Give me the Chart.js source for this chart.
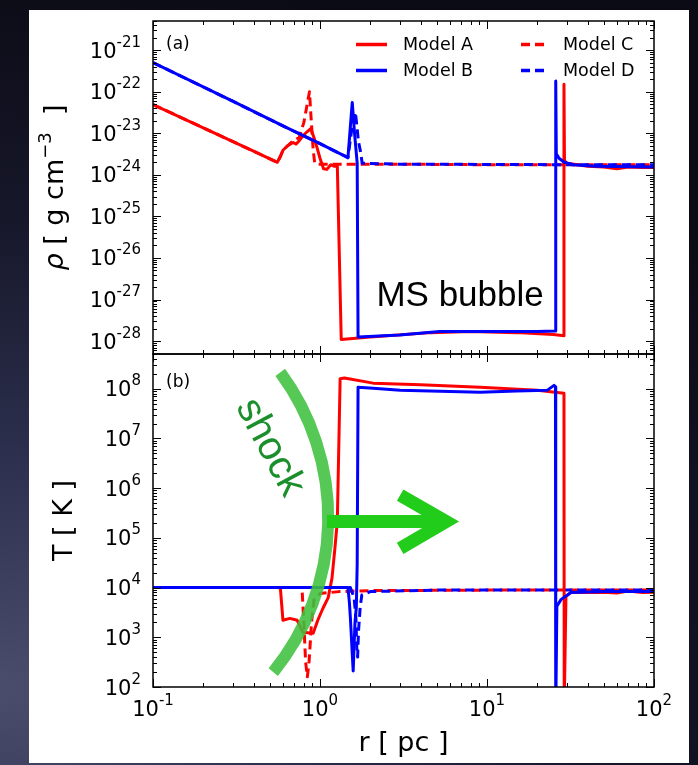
<!DOCTYPE html>
<html>
<head>
<meta charset="utf-8">
<script src="https://cdn.jsdelivr.net/npm/chart.js@4.4.1/dist/chart.umd.min.js"></script>
<style>
  html, body { margin: 0; padding: 0; width: 698px; height: 765px; overflow: hidden; }
  body {
    background: radial-gradient(ellipse 130% 95% at 0% 90%, #4a4e6c 0%, #2e3150 30%, #161729 65%, #0b0b15 100%);
  }
  #sheet { position: absolute; left: 29px; top: 10px; width: 660px; height: 753px; background: #ffffff; }
  #wrap { position: absolute; left: 0; top: 0; width: 698px; height: 765px; }
</style>
</head>
<body>
<div id="sheet"></div>
<div id="wrap"><canvas id="profiles" width="698" height="765"></canvas></div>
<script>
// ---- radial profiles: density (panel a) and temperature (panel b) ----

// Model A
const rRhoA = [0.1, 0.2, 0.4, 0.555, 0.58, 0.60, 0.64, 0.69, 0.72, 0.75, 0.79, 0.84, 0.88, 0.92, 0.96, 1.00, 1.05, 1.10, 1.16, 1.22, 1.27, 1.34, 2.0, 4.6, 8.0, 15, 25, 28.8, 28.9, 29.1, 30, 35, 40, 50, 60, 70, 85, 100];
const rhoA  = [4.9e-23, 1.35e-23, 3.7e-24, 2.0e-24, 2.8e-24, 3.9e-24, 5.0e-24, 6.0e-24, 5.5e-24, 6.6e-24, 8.7e-24, 1.1e-23, 1.3e-23, 7.9e-24, 4.5e-24, 2.5e-24, 1.4e-24, 1.35e-24, 1.75e-24, 1.6e-24, 1.6e-24, 1.1e-28, 1.25e-28, 1.6e-28, 1.7e-28, 1.6e-28, 1.45e-28, 1.35e-28, 1.5e-22, 2.2e-24, 1.9e-24, 1.75e-24, 1.6e-24, 1.55e-24, 1.4e-24, 1.55e-24, 1.5e-24, 1.5e-24];
const rTA = [0.1, 0.555, 0.579, 0.60, 0.66, 0.73, 0.79, 0.91, 0.97, 1.04, 1.12, 1.18, 1.23, 1.27, 1.32, 1.40, 2.08, 4.0, 9.1, 20, 28.9, 29.0, 29.7, 31.8, 36.6, 50, 60, 70, 85, 100];
const TA  = [1e4, 1e4, 9.8e3, 2.2e3, 2.4e3, 2.2e3, 1.26e3, 1.2e3, 2.2e3, 3.8e3, 6.3e3, 1.55e4, 6.5e4, 2.2e5, 1.6e8, 1.65e8, 1.3e8, 1.2e8, 1.07e8, 9.3e7, 8.1e7, 40, 6.6e3, 8.0e3, 8.0e3, 8.1e3, 7.8e3, 8.5e3, 8.0e3, 8.1e3];

// Model B
const rRhoB = [0.1, 0.3, 0.6, 1.0, 1.47, 1.56, 1.61, 1.67, 1.69, 3.0, 5.2, 10, 20, 25.7, 25.8, 26.0, 27, 29, 33, 45, 100];
const rhoB  = [5.0e-22, 5.9e-23, 1.5e-23, 5.6e-24, 2.6e-24, 5.5e-23, 1.0e-23, 1.9e-24, 1.25e-28, 1.4e-28, 1.7e-28, 1.7e-28, 1.7e-28, 1.75e-28, 1.8e-22, 3.2e-24, 2.5e-24, 2.0e-24, 1.75e-24, 1.6e-24, 1.55e-24];
const rTB = [0.1, 1.47, 1.50, 1.52, 1.58, 1.62, 1.65, 1.67, 1.69, 2.08, 3.02, 9.1, 15, 22.9, 25.2, 25.7, 25.8, 26.2, 27.8, 31.8, 50, 100];
const TB  = [1e4, 1e4, 5e3, 2.5e3, 2.1e2, 2.0e3, 4.0e3, 3.0e4, 1.07e8, 1.02e8, 9.3e7, 8.5e7, 9.0e7, 9.3e7, 1.17e8, 1.1e8, 30, 4.2e3, 5.8e3, 8.0e3, 8.3e3, 8.3e3];

// Model C
const rRhoC = [0.1, 0.2, 0.4, 0.555, 0.58, 0.60, 0.64, 0.69, 0.75, 0.80, 0.865, 0.88, 0.91, 0.93, 1.0, 3, 10, 30, 100];
const rhoC  = [4.9e-23, 1.35e-23, 3.7e-24, 2.0e-24, 2.8e-24, 3.9e-24, 5.0e-24, 6.6e-24, 7.9e-24, 1.8e-23, 1.0e-22, 3.2e-23, 4.0e-24, 1.9e-24, 1.8e-24, 1.8e-24, 1.75e-24, 1.75e-24, 1.75e-24];
const rTC = [0.1, 0.78, 0.80, 0.82, 0.84, 0.86, 0.89, 0.92, 1.0, 1.3, 2.0, 10, 30, 100];
const TC  = [1e4, 1e4, 2.0e3, 3.2e2, 1.6e2, 3.2e2, 2.0e3, 5.6e3, 7.6e3, 8.3e3, 8.7e3, 8.9e3, 8.9e3, 8.9e3];

// Model D
const rRhoD = [0.1, 0.3, 0.6, 1.0, 1.47, 1.55, 1.63, 1.70, 1.74, 1.79, 3, 10, 30, 100];
const rhoD  = [5.0e-22, 5.9e-23, 1.5e-23, 5.6e-24, 2.6e-24, 1.26e-23, 3.2e-23, 6.3e-24, 4.0e-24, 1.9e-24, 1.8e-24, 1.78e-24, 1.75e-24, 1.75e-24];
const rTD = [0.1, 1.52, 1.60, 1.64, 1.66, 1.68, 1.70, 1.74, 1.78, 2.0, 5, 100];
const TD  = [1e4, 1e4, 6.3e3, 2.5e3, 6.3e2, 4.0e2, 1.3e3, 4.0e3, 7.1e3, 8.3e3, 8.9e3, 8.9e3];

// axis ranges and labelled decades
const rRange   = [0.1, 100];
const rhoRange = [Math.pow(10, -28.31), Math.pow(10, -20.30)];
const TRange   = [1e2, Math.pow(10, 8.70)];
const rTickExps   = [-1, 0, 1, 2];
const rhoTickExps = [-28, -27, -26, -25, -24, -23, -22, -21];
const TTickExps   = [2, 3, 4, 5, 6, 7, 8];

const modelNames = ['Model A', 'Model B', 'Model C', 'Model D'];

// annotation anchors in data units (r [pc], T [K])
const shockArc   = [[0.578, Math.pow(10, 8.33)], [1.12, Math.pow(10, 5.35)], [0.525, Math.pow(10, 2.30)]];
const shockLabel = [0.50, Math.pow(10, 6.82)];
const shockArrow = { from: [1.10, Math.pow(10, 5.33)], tip: [6.18, Math.pow(10, 5.33)], barbUp: [3.02, Math.pow(10, 5.86)], barbDown: [3.02, Math.pow(10, 4.79)] };
const bubbleLabel = [6.9, Math.pow(10, -26.93)];

const RED = '#ff0000', BLUE = '#0000ff';
const FONT = '"DejaVu Sans", sans-serif';
const DASH = [9, 5];

const pts = (xs, ys) => xs.map((x, i) => ({ x: x, y: ys[i] }));
function series(label, xs, ys, axis, color, dashed) {
  return {
    label: label, data: pts(xs, ys), yAxisID: axis,
    borderColor: color, backgroundColor: color, borderWidth: 3,
    borderDash: dashed ? DASH : [], borderJoinStyle: 'round',
    pointRadius: 0, tension: 0, fill: false
  };
}

// first dataset is painted last (on top)
const datasets = [
  series(modelNames[1], rRhoB, rhoB, 'yRho', BLUE, false),
  series(modelNames[0], rRhoA, rhoA, 'yRho', RED, false),
  series(modelNames[3], rRhoD, rhoD, 'yRho', BLUE, true),
  series(modelNames[2], rRhoC, rhoC, 'yRho', RED, true),
  series(modelNames[1], rTB, TB, 'yT', BLUE, false),
  series(modelNames[0], rTA, TA, 'yT', RED, false),
  series(modelNames[3], rTD, TD, 'yT', BLUE, true),
  series(modelNames[2], rTC, TC, 'yT', RED, true)
];

function logTicks(min, max) {
  const major = [], minor = [];
  const e0 = Math.floor(Math.log10(min)), e1 = Math.ceil(Math.log10(max));
  for (let e = e0; e <= e1; e++) {
    for (let m = 1; m < 10; m++) {
      const v = m * Math.pow(10, e);
      if (v < min * 0.9999 || v > max * 1.0001) continue;
      (m === 1 ? major : minor).push(v);
    }
  }
  return { major, minor };
}

// "10" with a raised exponent; anchor is 'right' or 'center'
function drawPower(ctx, exp, x, y, anchor) {
  const baseFont = '21px ' + FONT, supFont = '15px ' + FONT;
  ctx.font = baseFont; const wb = ctx.measureText('10').width;
  ctx.font = supFont; const we = ctx.measureText(String(exp)).width;
  const x0 = anchor === 'right' ? x - wb - we : x - (wb + we) / 2;
  ctx.textAlign = 'left'; ctx.textBaseline = 'alphabetic';
  ctx.font = baseFont; ctx.fillText('10', x0, y + 7.5);
  ctx.font = supFont; ctx.fillText(String(exp), x0 + wb, y - 3.5);
}

// mixed-font run of text drawn centred on (0,0) of the current transform
function drawRun(ctx, parts) {
  let total = 0;
  parts.forEach(p => { ctx.font = p.font; p.w = ctx.measureText(p.t).width; total += p.w; });
  let x = -total / 2;
  ctx.textAlign = 'left'; ctx.textBaseline = 'middle';
  parts.forEach(p => { ctx.font = p.font; ctx.fillText(p.t, x, p.dy || 0); x += p.w; });
}

const decor = {
  id: 'panelDecor',
  afterDatasetsDraw(chart) {
    const ctx = chart.ctx, xs = chart.scales.x, yt = chart.scales.yT, yr = chart.scales.yRho;
    const P = (d) => ({ x: xs.getPixelForValue(d[0]), y: yt.getPixelForValue(d[1]) });

    // shock front: circular arc through three anchors
    const a = P(shockArc[0]), b = P(shockArc[1]), c = P(shockArc[2]);
    const d = 2 * (a.x * (b.y - c.y) + b.x * (c.y - a.y) + c.x * (a.y - b.y));
    const sa = a.x * a.x + a.y * a.y, sb = b.x * b.x + b.y * b.y, sc = c.x * c.x + c.y * c.y;
    const ux = (sa * (b.y - c.y) + sb * (c.y - a.y) + sc * (a.y - b.y)) / d;
    const uy = (sa * (c.x - b.x) + sb * (a.x - c.x) + sc * (b.x - a.x)) / d;
    const R = Math.hypot(a.x - ux, a.y - uy);
    ctx.save();
    ctx.strokeStyle = 'rgba(62, 192, 62, 0.88)';
    ctx.lineWidth = 12; ctx.lineCap = 'butt';
    ctx.beginPath();
    ctx.arc(ux, uy, R, Math.atan2(a.y - uy, a.x - ux), Math.atan2(c.y - uy, c.x - ux), false);
    ctx.stroke();

    // "shock" written along the front
    const s = P(shockLabel);
    ctx.translate(s.x, s.y); ctx.rotate(62 * Math.PI / 180);
    ctx.fillStyle = '#1b8f2b';
    ctx.font = '40px "Liberation Sans", Arial, sans-serif';
    ctx.textAlign = 'center'; ctx.textBaseline = 'middle';
    ctx.fillText('shock', 0, 0);
    ctx.restore();

    // propagation arrow
    const f = P(shockArrow.from), t = P(shockArrow.tip), bu = P(shockArrow.barbUp), bd = P(shockArrow.barbDown);
    ctx.save();
    ctx.strokeStyle = '#22cc1a'; ctx.lineWidth = 13; ctx.lineCap = 'butt'; ctx.lineJoin = 'miter'; ctx.miterLimit = 10;
    ctx.beginPath(); ctx.moveTo(f.x, f.y); ctx.lineTo(t.x - 10, t.y); ctx.stroke();
    ctx.beginPath(); ctx.moveTo(bu.x, bu.y); ctx.lineTo(t.x - 6, t.y); ctx.lineTo(bd.x, bd.y); ctx.stroke();
    ctx.restore();

    // bubble label in panel (a)
    ctx.save();
    ctx.fillStyle = '#000';
    ctx.font = '35px "Liberation Sans", Arial, sans-serif';
    ctx.textAlign = 'center'; ctx.textBaseline = 'middle';
    ctx.fillText('MS bubble', xs.getPixelForValue(bubbleLabel[0]), yr.getPixelForValue(bubbleLabel[1]));
    ctx.restore();
  },
  afterDraw(chart) {
    const ctx = chart.ctx, area = chart.chartArea, xs = chart.scales.x;
    const panels = [chart.scales.yRho, chart.scales.yT];
    const xt = logTicks(xs.min, xs.max);
    const MAJ = 8, MIN = 4;
    ctx.save();
    ctx.strokeStyle = '#000'; ctx.fillStyle = '#000';
    panels.forEach(ys => {
      const top = ys.top, bot = ys.bottom;
      const yt = logTicks(ys.min, ys.max);
      ctx.lineWidth = 1;
      ctx.beginPath();
      const xTick = (v, len) => {
        const px = Math.round(xs.getPixelForValue(v)) + 0.5;
        ctx.moveTo(px, top); ctx.lineTo(px, top + len);
        ctx.moveTo(px, bot); ctx.lineTo(px, bot - len);
      };
      const yTick = (v, len) => {
        const py = Math.round(ys.getPixelForValue(v)) + 0.5;
        ctx.moveTo(area.left, py); ctx.lineTo(area.left + len, py);
        ctx.moveTo(area.right, py); ctx.lineTo(area.right - len, py);
      };
      xt.major.forEach(v => xTick(v, MAJ)); xt.minor.forEach(v => xTick(v, MIN));
      yt.major.forEach(v => yTick(v, MAJ)); yt.minor.forEach(v => yTick(v, MIN));
      ctx.stroke();
      ctx.lineWidth = 1.5;
      ctx.strokeRect(area.left, top, area.right - area.left, bot - top);
    });

    // tick labels
    const yr = chart.scales.yRho, yT = chart.scales.yT;
    rhoTickExps.forEach(e => drawPower(ctx, e, area.left - 12, yr.getPixelForValue(Math.pow(10, e)), 'right'));
    TTickExps.forEach(e => drawPower(ctx, e, area.left - 12, yT.getPixelForValue(Math.pow(10, e)), 'right'));
    rTickExps.forEach(e => drawPower(ctx, e, xs.getPixelForValue(Math.pow(10, e)), area.bottom + 21, 'center'));

    // axis titles
    ctx.save();
    ctx.translate((area.left + area.right) / 2, area.bottom + 57);
    drawRun(ctx, [{ t: 'r [ pc ]', font: '27px ' + FONT }]);
    ctx.restore();
    ctx.save();
    ctx.translate(56, (yr.top + yr.bottom) / 2); ctx.rotate(-Math.PI / 2);
    drawRun(ctx, [
      { t: 'ρ', font: 'oblique 27px ' + FONT },
      { t: ' [ g cm', font: '27px ' + FONT },
      { t: '−3', font: '18px ' + FONT, dy: -10 },
      { t: '  ]', font: '27px ' + FONT }
    ]);
    ctx.restore();
    ctx.save();
    ctx.translate(65, (yT.top + yT.bottom) / 2); ctx.rotate(-Math.PI / 2);
    drawRun(ctx, [{ t: 'T [ K ]', font: '27px ' + FONT }]);
    ctx.restore();

    // panel tags
    ctx.font = '17px ' + FONT; ctx.textAlign = 'left'; ctx.textBaseline = 'middle';
    ctx.fillText('(a)', area.left + 13, yr.top + 24);
    ctx.fillText('(b)', area.left + 13, yT.top + 29);

    // legend, two columns
    const slots = [
      { name: modelNames[0], x: area.left + 203, y: yr.top + 23.5 },
      { name: modelNames[1], x: area.left + 203, y: yr.top + 49.5 },
      { name: modelNames[2], x: area.left + 368, y: yr.top + 23.5 },
      { name: modelNames[3], x: area.left + 368, y: yr.top + 49.5 }
    ];
    slots.forEach(sl => {
      const ds = chart.data.datasets.find(dd => dd.label === sl.name && dd.yAxisID === 'yRho');
      const dashed = ds.borderDash.length > 0;
      ctx.save();
      ctx.strokeStyle = ds.borderColor; ctx.lineWidth = 3.5; ctx.setLineDash(ds.borderDash);
      ctx.beginPath(); ctx.moveTo(sl.x, sl.y); ctx.lineTo(sl.x + (dashed ? 24 : 31), sl.y); ctx.stroke();
      ctx.restore();
      ctx.font = '17.5px ' + FONT; ctx.textAlign = 'left'; ctx.textBaseline = 'middle';
      ctx.fillText(sl.name, sl.x + (dashed ? 42 : 47), sl.y + 1);
    });
    ctx.restore();
  }
};

const hiddenAxis = {
  display: true,
  grid: { display: false, drawTicks: false },
  border: { display: false },
  ticks: { display: false },
  title: { display: false }
};

new Chart(document.getElementById('profiles'), {
  type: 'line',
  data: { datasets: datasets },
  options: {
    responsive: false, animation: false, devicePixelRatio: 1,
    events: [],
    layout: { padding: { left: 153, right: 44, top: 21, bottom: 78 } },
    plugins: { legend: { display: false }, tooltip: { enabled: false } },
    scales: {
      x: Object.assign({}, hiddenAxis, { type: 'logarithmic', position: 'bottom', min: rRange[0], max: rRange[1],
        afterFit: s => { s.height = 0; } }),
      yT: Object.assign({}, hiddenAxis, { type: 'logarithmic', position: 'left', stack: 'panels', stackWeight: 1,
        min: TRange[0], max: TRange[1], afterFit: s => { s.width = 0; } }),
      yRho: Object.assign({}, hiddenAxis, { type: 'logarithmic', position: 'left', stack: 'panels', stackWeight: 1,
        min: rhoRange[0], max: rhoRange[1], afterFit: s => { s.width = 0; } })
    }
  },
  plugins: [decor]
});
</script>
</body>
</html>
